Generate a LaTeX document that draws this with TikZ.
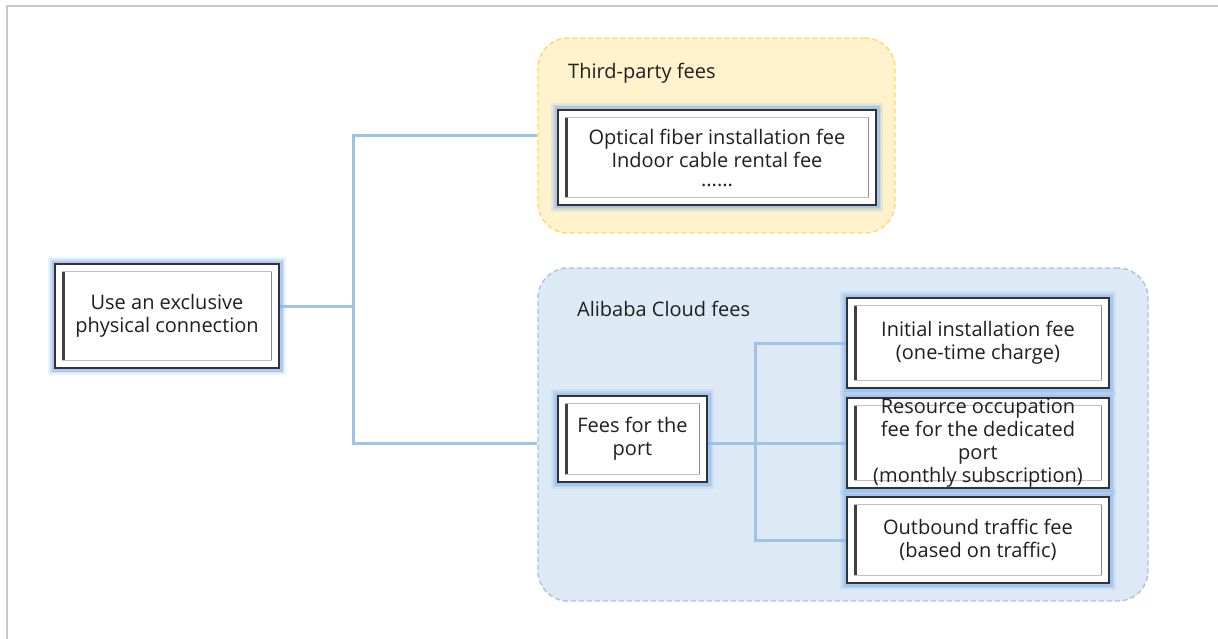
\documentclass[tikz,border=0pt]{standalone}
\usepackage{fontspec}
\setmainfont{Open Sans}
\definecolor{conncol}{HTML}{9DC3E6}
\definecolor{glowcol}{HTML}{8EB8EC}
\definecolor{tpfill}{HTML}{FFF2CC}
\definecolor{tpdraw}{HTML}{FFD966}
\definecolor{abfill}{HTML}{DEE9F6}
\definecolor{abdraw}{HTML}{A9C2E8}
\definecolor{framecol}{HTML}{C8C8C8}
\pgfdeclarelayer{grp}
\pgfdeclarelayer{lines}
\pgfsetlayers{grp,lines,main}
\tikzset{
  conn/.style={draw=conncol, line width=3pt},
  grp/.style={rounded corners=30pt, line width=1.4pt, dash pattern=on 5pt off 3pt},
  txt/.style={inner sep=0pt, align=center, font=\fontsize{20}{23}\selectfont, text=black!88},
  fbox/.style={draw=black!80, line width=2.8pt, fill=white, inner sep=0pt,
    preaction={draw=glowcol, line width=14pt, opacity=0.18},
    preaction={draw=glowcol, line width=10pt, opacity=0.3},
    preaction={draw=glowcol, line width=7pt, opacity=0.5}},
  bevel/.style={draw=black!25, line width=1.6pt},
  bevelL/.style={draw=black!75, line width=2.4pt},
  bevelR/.style={draw=black!45, line width=1.6pt},
  lbl/.style={anchor=west, inner sep=0pt, font=\fontsize{20}{23}\selectfont, text=black!88}
}
\begin{document}
\begin{tikzpicture}[x=1pt,y=-1pt]
\useasboundingbox (0,0) rectangle (1218,639);
\begin{pgfonlayer}{grp}
\fill[white] (0,0) rectangle (1218,639);
\draw[framecol, line width=2pt] (7,639) -- (7,6) -- (1218,6);
\node[grp, fill=tpfill, draw=tpdraw, minimum width=357pt, minimum height=195pt] (tp) at (716.5,135.5) {};
\node[grp, fill=abfill, draw=abdraw, minimum width=610pt, minimum height=333pt] (ab) at (843,434.5) {};
\node[lbl] (tpl) at (568,73) {Third-party fees};
\node[lbl] (abl) at (577,309) {Alibaba Cloud fees};
\end{pgfonlayer}

\coordinate (j1) at (353,306);
\coordinate (j2) at (755,443);

\node[fbox, minimum width=224pt, minimum height=104pt] (L) at (167,316) {};
\node[fbox, minimum width=318pt, minimum height=95pt] (opt) at (717,157.5) {};
\node[fbox, minimum width=149pt, minimum height=86pt] (port) at (632.5,439) {};
\node[fbox, minimum width=262pt, minimum height=90pt] (s1) at (978,343) {};
\node[fbox, minimum width=262pt, minimum height=90pt] (s2) at (978,443) {};
\node[fbox, minimum width=262pt, minimum height=86pt] (s3) at (978,540) {};

\foreach \n in {L,opt,port,s1,s2,s3}{
  \draw[bevel] ([xshift=9pt,yshift=-9pt]\n.north west) rectangle ([xshift=-9pt,yshift=9pt]\n.south east);
  \draw[bevelL] ([xshift=10pt,yshift=-9pt]\n.north west) -- ([xshift=10pt,yshift=9pt]\n.south west);
  \draw[bevelR] ([xshift=-9pt,yshift=-9pt]\n.north east) -- ([xshift=-9pt,yshift=9pt]\n.south east);
}

\node[txt] (Lt) at (L.center) {Use an exclusive\\physical connection};
\node[txt] (optt) at (opt.center) {Optical fiber installation fee\\Indoor cable rental fee\\[-4pt]......};
\node[txt] (portt) at (port.center) {Fees for the\\port};
\node[txt] (s1t) at (s1.center) {Initial installation fee\\(one-time charge)};
\node[txt] (s2t) at (s2.center) {Resource occupation\\fee for the dedicated\\port\\(monthly subscription)};
\node[txt] (s3t) at (s3.center) {Outbound traffic fee\\(based on traffic)};

\begin{pgfonlayer}{lines}
\draw[conn] (L.east |- j1) -- (j1);
\draw[conn] (tp.west) -| (j1) |- (ab.west |- s2.west);
\draw[conn] (port.east |- s2.west) -- (s2.west);
\draw[conn] (s1.west) -| (j2) |- (s3.west);
\end{pgfonlayer}
\end{tikzpicture}
\end{document}
